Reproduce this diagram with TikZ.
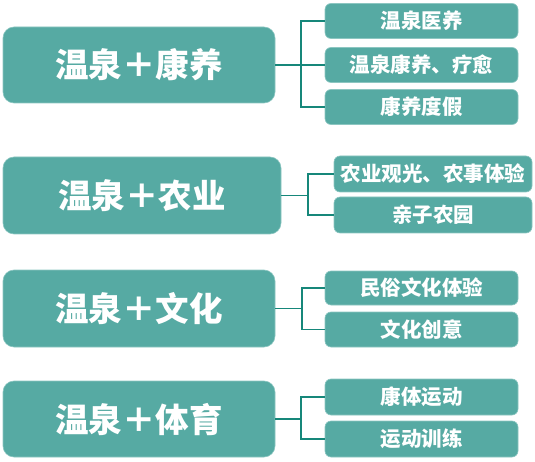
\documentclass[tikz,border=0pt]{standalone}
\usepackage{fontspec}
\newfontfamily\cjk{Noto Sans CJK SC}
\definecolor{boxfill}{HTML}{56AAA3}
\definecolor{boxedge}{HTML}{8CC6C1}
\definecolor{conncol}{HTML}{16877A}
\tikzset{
  bigbox/.style={draw=boxedge, line width=0.6pt, fill=boxfill, rounded corners=11pt, text=white,
    font=\cjk\bfseries\fontsize{33.5}{38}\selectfont, inner sep=0pt},
  smallbox/.style={draw=boxedge, line width=0.6pt, fill=boxfill, rounded corners=6pt, text=white,
    font=\cjk\bfseries\fontsize{20.5}{23}\selectfont, inner sep=0pt},
  conn/.style={draw=conncol, line width=1.4pt}
}
\begin{document}
\begin{tikzpicture}[x=1pt,y=-1pt]
\useasboundingbox (0,0) rectangle (535,462);
% group 1
\node[bigbox, minimum width=272pt, minimum height=76pt] (b1) at (139,65) {温泉＋康养};
\node[smallbox, minimum width=193pt, minimum height=35pt] (s1a) at (421.5,21) {温泉医养};
\node[smallbox, minimum width=193pt, minimum height=35pt] (s1b) at (421.5,65) {温泉康养、疗愈};
\node[smallbox, minimum width=193pt, minimum height=35pt] (s1c) at (421.5,107) {康养度假};
\coordinate (j1) at (301,65);
\draw[conn] (b1.east) -- (s1b.west);
\draw[conn] (s1a.west) -| (j1);
\draw[conn] (s1c.west) -| (j1);
% group 2
\node[bigbox, minimum width=278pt, minimum height=77pt] (b2) at (142,195.5) {温泉＋农业};
\node[smallbox, minimum width=198pt, minimum height=36pt] (s2a) at (433,174) {农业观光、农事体验};
\node[smallbox, minimum width=198pt, minimum height=36pt] (s2b) at (433,215) {亲子农园};
\coordinate (j2) at (308,195.5);
\draw[conn] (b2.east) -- (j2);
\draw[conn] (s2a.west) -| (j2);
\draw[conn] (s2b.west) -| (j2);
% group 3
\node[bigbox, minimum width=272pt, minimum height=77pt] (b3) at (139,308.5) {温泉＋文化};
\node[smallbox, minimum width=193pt, minimum height=34pt] (s3a) at (421.5,288) {民俗文化体验};
\node[smallbox, minimum width=193pt, minimum height=35pt] (s3b) at (421.5,329.5) {文化创意};
\coordinate (j3) at (302,308.5);
\draw[conn] (b3.east) -- (j3);
\draw[conn] (s3a.west) -| (j3);
\draw[conn] (s3b.west) -| (j3);
% group 4
\node[bigbox, minimum width=272pt, minimum height=76pt] (b4) at (139,419) {温泉＋体育};
\node[smallbox, minimum width=193pt, minimum height=36pt] (s4a) at (421.5,397) {康体运动};
\node[smallbox, minimum width=193pt, minimum height=36pt] (s4b) at (421.5,439) {运动训练};
\coordinate (j4) at (301,419);
\draw[conn] (b4.east) -- (j4);
\draw[conn] (s4a.west) -| (j4);
\draw[conn] (s4b.west) -| (j4);
\end{tikzpicture}
\end{document}
